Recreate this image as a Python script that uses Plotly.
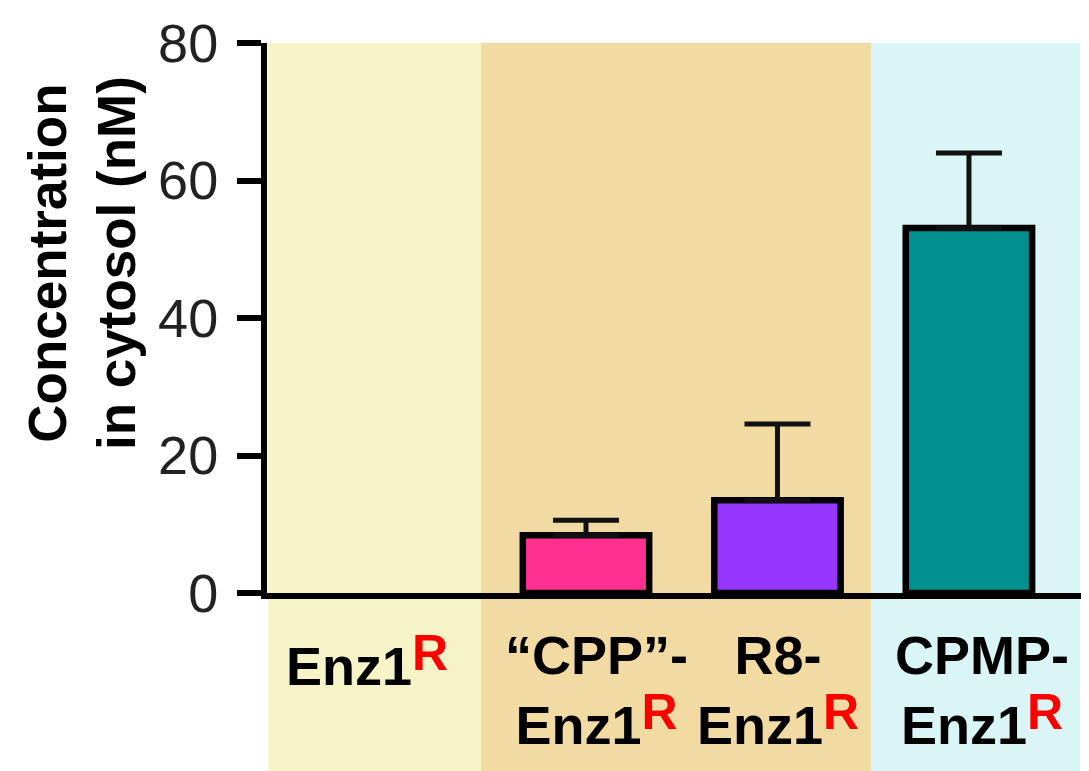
import plotly.graph_objects as go

categories = ["Enz1R", "CPP-Enz1R", "R8-Enz1R", "CPMP-Enz1R"]
RSUP = "<span style='color:#FF0000;font-size:50px;baseline-shift:15px'>R</span>"
label_texts = [
    "Enz1" + RSUP,
    "\u201cCPP\u201d-<br>Enz1" + RSUP,
    "R8-<br>Enz1" + RSUP,
    "CPMP-<br>Enz1" + RSUP,
]
values = [None, 8.4, 13.5, 53.1]   # Enz1R: no detectable cytosolic protein
errors = [None, 2.2, 11.1, 10.9]
errors_minus = [None, 0, 0, 0]
bar_colors = ["#FFFFFF", "#FF3090", "#9537FF", "#009090"]
y_ticks = [0, 20, 40, 60, 80]

FONT = "Liberation Sans, Arial, Helvetica, sans-serif"

fig = go.Figure()
fig.add_trace(go.Bar(
    x=categories,
    y=values,
    width=0.66,
    marker=dict(color=bar_colors,
                line=dict(color="#000000", width=[0, 6.5, 6.5, 6.5])),
    error_y=dict(type="data", array=errors, visible=True, symmetric=False,
                 arrayminus=errors_minus,
                 color="#111111", thickness=5, width=33),
    showlegend=False,
))

# background bands (layout)
bands = [(-0.66, 0.452, "#F6F4C6"), (0.452, 2.488, "#F2DBA3"), (2.488, 3.58, "#D9F5F5")]
for x0, x1, c in bands:
    fig.add_shape(type="rect", xref="x", yref="paper", x0=x0, x1=x1,
                  y0=-0.33, y1=1, fillcolor=c, line=dict(width=0), layer="below")

shifts = [-28, 10, 1, 13]
for cat, txt, sh in zip(categories, label_texts, shifts):
    fig.add_annotation(x=cat, xref="x", y=0, yref="paper", yanchor="top",
                       xanchor="center", yshift=-30, xshift=sh, text=txt,
                       showarrow=False, align="center",
                       font=dict(family=FONT, size=54, color="#000000", weight="bold"))

fig.add_annotation(x=-0.225, xref="paper", y=0.6, yref="paper",
                   text="Concentration<br>in cytosol (nM)", textangle=-90,
                   showarrow=False, xanchor="center", yanchor="middle",
                   font=dict(family=FONT, size=53, color="#000000", weight="bold"))

fig.update_layout(
    width=1081, height=763,
    margin=dict(l=259, r=0, t=35, b=178, autoexpand=False),
    paper_bgcolor="white", plot_bgcolor="rgba(0,0,0,0)",
    xaxis=dict(range=[-0.666, 3.627], showline=True, linewidth=6, linecolor="#000000",
               showticklabels=False, ticks="", showgrid=False, zeroline=False,
               fixedrange=True),
    yaxis=dict(range=[0, 80], tickvals=y_ticks, showline=True, linewidth=6,
               linecolor="#000000", ticks="outside", ticklen=24, tickwidth=6,
               tickcolor="#000000", showgrid=False, zeroline=False,
               tickfont=dict(family=FONT, size=54, color="#222222"),
               ticklabelstandoff=8),
)

fig.write_html("out.html")
